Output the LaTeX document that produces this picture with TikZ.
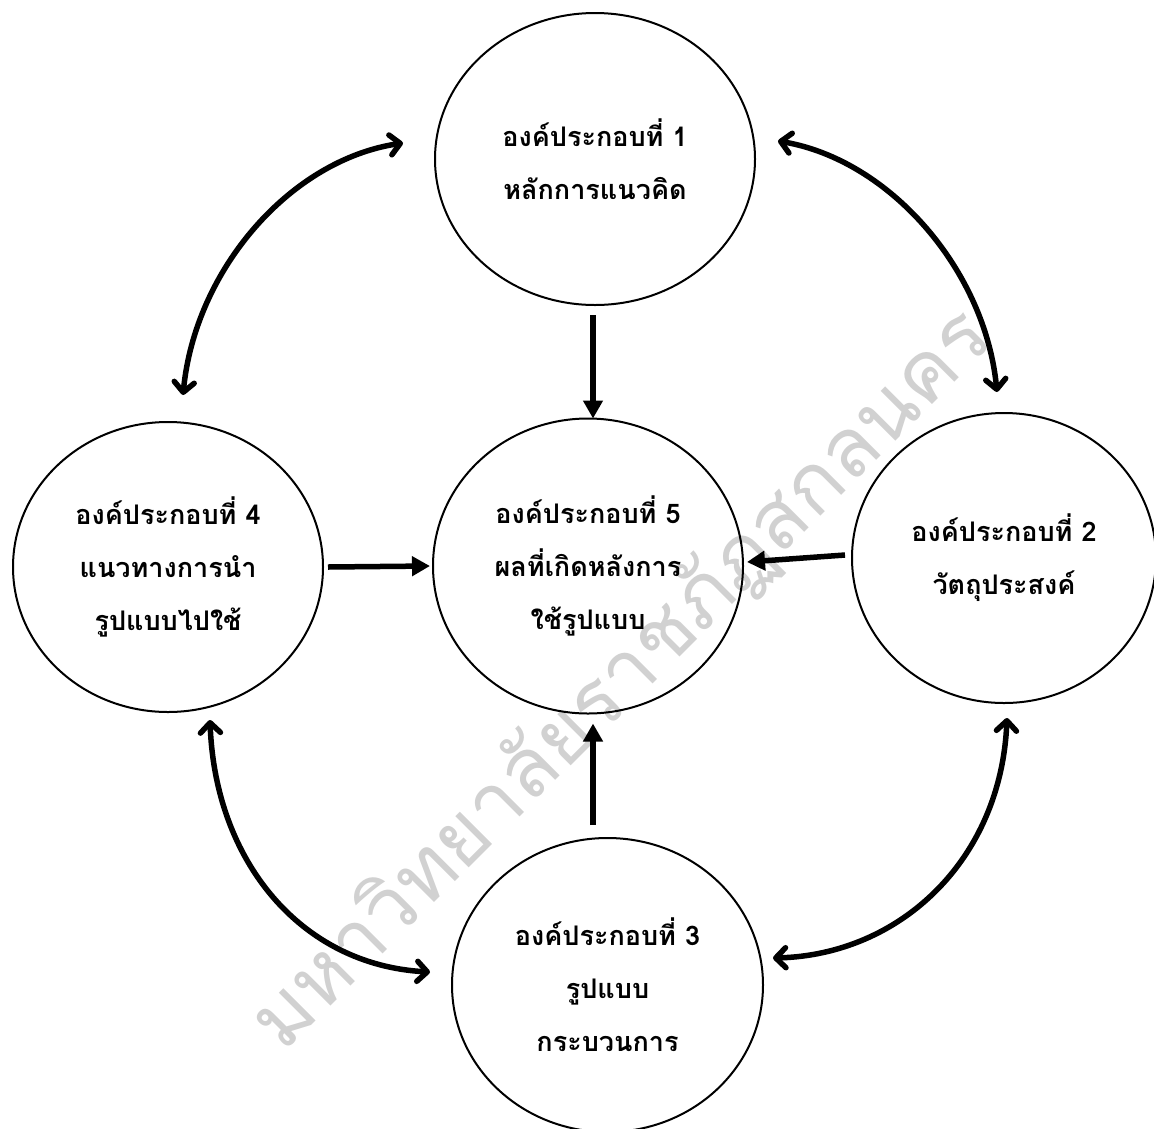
\documentclass[tikz,border=0pt]{standalone}
\usepackage{fontspec}
\newfontfamily\thaifont[Script=Thai]{Loma}
\usetikzlibrary{arrows.meta,shapes.geometric}
\begin{document}
\begin{tikzpicture}[x=1pt,y=-1pt,
  comp/.style={ellipse, draw, line width=2pt, inner sep=0pt, outer sep=0pt, align=center,
    font=\thaifont\bfseries\fontsize{27}{53}\selectfont},
  sarrow/.style={line width=5.5pt, -{Triangle[length=18pt,width=19pt]}},
  carrow/.style={line width=5.5pt, line cap=round,
    {Straight Barb[length=10pt,width=20pt,round]}-{Straight Barb[length=10pt,width=20pt,round]}},
  wm/.style={font=\thaifont\fontsize{82}{82}\selectfont, text=black!18}]
\useasboundingbox (0,0) rectangle (1154,1128);
% watermark
\node[wm, rotate=45] (wmk) at (622,680) {มหาวิทยาลัยราชภัฏสกลนคร};
% components
\node[comp, minimum width=320pt, minimum height=292pt] (c1) at (595,159) {องค์ประกอบที่ 1\\หลักการแนวคิด};
\node[comp, minimum width=310pt, minimum height=290pt] (c4) at (168,567) {องค์ประกอบที่ 4\\แนวทางการนำ\\รูปแบบไปใช้};
\node[comp, minimum width=310pt, minimum height=295pt] (c5) at (588,566) {องค์ประกอบที่ 5\\ผลที่เกิดหลังการ\\ใช้รูปแบบ};
\node[comp, minimum width=304pt, minimum height=290pt] (c2) at (1004,558) {องค์ประกอบที่ 2\\วัตถุประสงค์};
\node[comp, minimum width=311pt, minimum height=294pt] (c3) at (607.5,985) {องค์ประกอบที่ 3\\รูปแบบ\\กระบวนการ};
% straight arrows into component 5
\draw[sarrow] ([xshift=-2pt,yshift=-10pt]c1.south) -- ([xshift=5pt]c5.north);
\draw[sarrow] ([xshift=5pt]c4.east) -- ([xshift=-3pt]c5.west);
\draw[sarrow] ([xshift=-7pt,yshift=3pt]c2.west) -- ([xshift=4pt,yshift=4pt]c5.east);
\draw[sarrow] ([xshift=-14.5pt,yshift=13pt]c3.north) -- ([xshift=5pt,yshift=-10pt]c5.south);
% curved two-way arrows
\coordinate (a41) at (183,395); \coordinate (a14) at (403,143);
\coordinate (a12) at (778,141); \coordinate (a21) at (997,392);
\coordinate (a43) at (210,720); \coordinate (a34) at (430,972);
\coordinate (a32) at (773,958); \coordinate (a23) at (1007,718);
\draw[carrow] (a41) .. controls (195,270) and (290,160) .. (a14);
\draw[carrow] (a12) .. controls (890,160) and (985,270) .. (a21);
\draw[carrow] (a43) .. controls (215,860) and (300,965) .. (a34);
\draw[carrow] (a32) .. controls (900,955) and (1001,860) .. (a23);
\end{tikzpicture}
\end{document}
